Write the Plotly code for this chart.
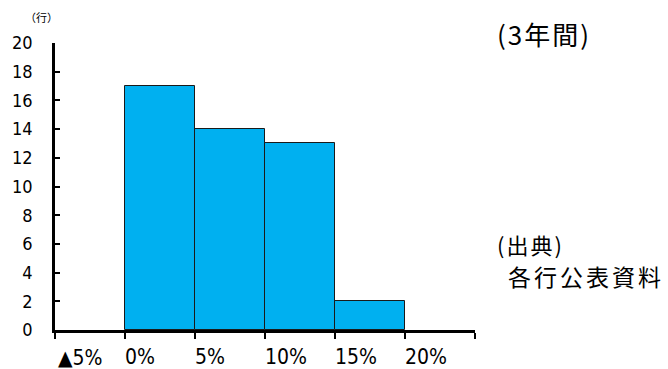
import plotly.graph_objects as go

# Data
bin_starts = [-5, 0, 5, 10, 15]   # bin lower edges (%)
bin_width = 5
counts = [0, 17, 14, 13, 2]       # number of banks
tick_vals = [-5, 0, 5, 10, 15, 20, 25]
tick_labels = ["▲5%", "0%", "5%", "10%", "15%", "20%", ""]
y_ticks = list(range(0, 21, 2))

NARROW = "Liberation Sans Narrow, DejaVu Sans Condensed, Arial Narrow, sans-serif"
JP = "Noto Sans CJK JP, sans-serif"

fig = go.Figure()
fig.add_trace(go.Bar(
    x=[s + bin_width / 2 for s in bin_starts],
    y=counts,
    width=[bin_width] * len(bin_starts),
    marker=dict(color="#00B0F0",
                line=dict(color="#1a1a1a", width=[1 if c > 0 else 0 for c in counts])),
    showlegend=False,
    hoverinfo="skip",
))

fig.update_layout(
    width=668, height=369,
    margin=dict(l=55, r=193, t=43, b=39),
    paper_bgcolor="white", plot_bgcolor="white",
    bargap=0,
    xaxis=dict(
        range=[-5, 25], tickvals=tick_vals, ticktext=[""] * len(tick_vals),
        ticks="outside", ticklen=6, tickwidth=2, tickcolor="black",
        showline=True, linecolor="black", linewidth=2.5,
        showgrid=False, zeroline=False, fixedrange=True,
    ),
    yaxis=dict(
        range=[0, 20], tickvals=y_ticks,
        ticks="inside", ticklen=5, tickwidth=2, tickcolor="black",
        showline=True, linecolor="black", linewidth=2.5,
        showgrid=False, zeroline=False,
        tickfont=dict(family=NARROW, size=18, color="black"),
        ticklabelstandoff=16,
    ),
)

# x tick labels (left aligned at ticks)
for v, t in zip(tick_vals, tick_labels):
    if not t:
        continue
    if t.startswith("▲"):
        fig.add_annotation(x=v, xref="x", xshift=1, y=-0.099, yref="paper",
                           text=t, showarrow=False, xanchor="left", yanchor="middle",
                           font=dict(family=NARROW, size=21, color="black"))
    else:
        fig.add_annotation(x=v, xref="x", xshift=-2, y=-0.094, yref="paper", text=t,
                           showarrow=False, xanchor="left", yanchor="middle",
                           font=dict(family=NARROW, size=21, color="black"))

fig.add_annotation(x=0.0, y=1.0, xref="paper", yref="paper", xshift=-32, yshift=26,
                   text="（行）", showarrow=False, xanchor="left", yanchor="middle",
                   font=dict(family=JP, size=11, color="black"))

fig.add_annotation(x=1.0, y=1.0, xref="paper", yref="paper", xshift=20, yshift=10,
                   text="<span style='letter-spacing:2px'>(3年間)</span>",
                   showarrow=False, xanchor="left", yanchor="middle",
                   font=dict(family=JP, size=26, color="black"))

fig.add_annotation(x=1.0, y=0, xref="paper", yref="paper", xshift=20, yshift=86,
                   text="<span style='letter-spacing:2px'>(出典)</span>",
                   showarrow=False, xanchor="left", yanchor="middle",
                   font=dict(family=JP, size=22, color="black"))
fig.add_annotation(x=1.0, y=0, xref="paper", yref="paper", xshift=31, yshift=54,
                   text="<span style='letter-spacing:3px'>各行公表資料</span>",
                   showarrow=False, xanchor="left", yanchor="middle",
                   font=dict(family=JP, size=23, color="black"))

fig.write_html("out.html")
